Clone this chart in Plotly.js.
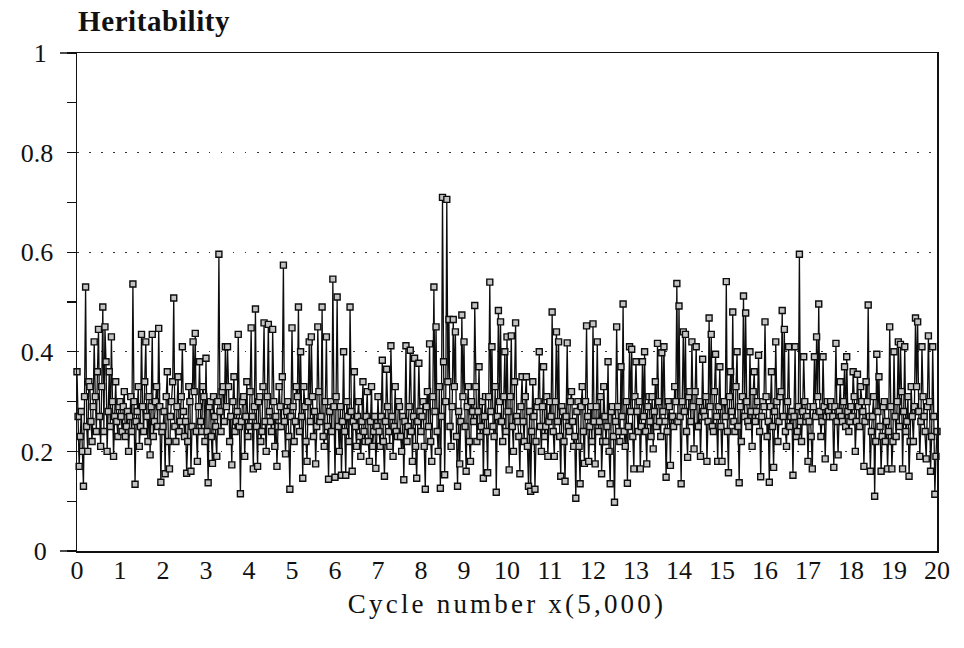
<!DOCTYPE html>
<html>
<head>
<meta charset="utf-8">
<script src="https://cdn.plot.ly/plotly-3.0.1.min.js"></script>
<style>
html,body{margin:0;padding:0;background:#fff;}
#chart{width:964px;height:648px;}
.xtitle{letter-spacing:3.2px;}
.gtitle{letter-spacing:0.6px;}
</style>
</head>
<body>
<div id="chart"></div>
<script>
// Sampling step of the cycle axis (units of 5,000 cycles)
const sampleStep = 0.025;

// Heritability, samples on the 0.05 grid, one row per axis unit
const h00 = [0.36,0.17,0.28,0.13,0.53,0.20,0.33,0.22,0.42,0.24,0.445,0.21,0.49,0.45,0.20,0.36,0.43,0.19,0.34,0.23];
const h01 = [0.30,0.24,0.32,0.25,0.20,0.31,0.536,0.134,0.28,0.21,0.435,0.24,0.42,0.22,0.193,0.435,0.26,0.33,0.447,0.138];
const h02 = [0.25,0.155,0.36,0.165,0.30,0.508,0.22,0.35,0.26,0.41,0.23,0.156,0.33,0.16,0.42,0.437,0.18,0.38,0.24,0.31];
const h03 = [0.387,0.137,0.30,0.176,0.27,0.19,0.596,0.24,0.33,0.41,0.41,0.22,0.173,0.35,0.26,0.435,0.115,0.30,0.19,0.34];
const h04 = [0.25,0.448,0.165,0.486,0.17,0.31,0.24,0.458,0.20,0.455,0.26,0.445,0.21,0.17,0.33,0.25,0.574,0.195,0.30,0.124];
const h05 = [0.448,0.22,0.33,0.49,0.40,0.146,0.29,0.18,0.42,0.43,0.23,0.175,0.45,0.26,0.49,0.21,0.43,0.144,0.30,0.546];
const h06 = [0.148,0.51,0.20,0.152,0.40,0.152,0.27,0.49,0.16,0.36,0.21,0.30,0.19,0.34,0.22,0.32,0.18,0.33,0.24,0.166];
const h07 = [0.31,0.21,0.383,0.15,0.365,0.24,0.412,0.19,0.33,0.23,0.29,0.20,0.143,0.412,0.25,0.403,0.18,0.387,0.146,0.377];
const h08 = [0.24,0.30,0.124,0.32,0.416,0.18,0.53,0.45,0.20,0.126,0.71,0.153,0.706,0.465,0.21,0.465,0.44,0.13,0.175,0.474];
const h09 = [0.42,0.16,0.33,0.18,0.28,0.493,0.22,0.37,0.25,0.146,0.31,0.157,0.54,0.41,0.23,0.118,0.483,0.46,0.22,0.40];
const h10 = [0.43,0.163,0.432,0.20,0.458,0.26,0.155,0.35,0.22,0.35,0.13,0.12,0.34,0.124,0.29,0.40,0.20,0.37,0.25,0.19];
const h11 = [0.30,0.48,0.19,0.44,0.42,0.15,0.28,0.14,0.418,0.24,0.32,0.21,0.106,0.30,0.135,0.33,0.176,0.452,0.18,0.29];
const h12 = [0.456,0.175,0.42,0.26,0.155,0.33,0.22,0.38,0.135,0.29,0.098,0.45,0.24,0.37,0.496,0.21,0.136,0.41,0.405,0.165];
const h13 = [0.38,0.24,0.165,0.38,0.40,0.175,0.31,0.23,0.205,0.34,0.417,0.26,0.398,0.41,0.148,0.30,0.172,0.27,0.33,0.537];
const h14 = [0.492,0.135,0.44,0.435,0.188,0.32,0.42,0.205,0.41,0.25,0.19,0.385,0.27,0.18,0.468,0.435,0.24,0.395,0.18,0.37];
const h15 = [0.18,0.30,0.541,0.157,0.36,0.48,0.24,0.40,0.137,0.22,0.512,0.478,0.26,0.40,0.21,0.36,0.28,0.393,0.149,0.30];
const h16 = [0.46,0.23,0.138,0.36,0.168,0.42,0.22,0.31,0.483,0.445,0.21,0.41,0.27,0.152,0.41,0.24,0.596,0.22,0.39,0.26];
const h17 = [0.18,0.29,0.165,0.39,0.43,0.496,0.23,0.39,0.185,0.30,0.27,0.29,0.168,0.417,0.193,0.34,0.26,0.37,0.39,0.24];
const h18 = [0.29,0.36,0.20,0.355,0.25,0.30,0.17,0.34,0.494,0.16,0.27,0.11,0.395,0.35,0.16,0.29,0.22,0.165,0.45,0.165];
const h19 = [0.40,0.23,0.42,0.415,0.165,0.41,0.26,0.15,0.33,0.22,0.468,0.46,0.19,0.41,0.27,0.185,0.432,0.16,0.41,0.114];

// Heritability, samples half-way between the above (the dense core band), one row per axis unit
const m00 = [0.27,0.23,0.20,0.31,0.25,0.34,0.26,0.29,0.31,0.36,0.27,0.33,0.24,0.38,0.28,0.25,0.30,0.27,0.26,0.29];
const m01 = [0.27,0.29,0.23,0.28,0.27,0.24,0.30,0.26,0.33,0.25,0.29,0.34,0.27,0.31,0.29,0.23,0.30,0.25,0.29,0.24];
const m02 = [0.28,0.31,0.22,0.27,0.34,0.25,0.29,0.24,0.31,0.28,0.26,0.22,0.30,0.25,0.32,0.24,0.29,0.26,0.33,0.22];
const m03 = [0.24,0.29,0.23,0.31,0.25,0.30,0.28,0.32,0.26,0.29,0.33,0.27,0.30,0.24,0.28,0.25,0.26,0.31,0.27,0.23];
const m04 = [0.32,0.27,0.29,0.25,0.30,0.22,0.33,0.26,0.31,0.28,0.24,0.30,0.27,0.25,0.29,0.35,0.26,0.28,0.23,0.27];
const m05 = [0.29,0.26,0.31,0.24,0.27,0.33,0.22,0.30,0.26,0.31,0.28,0.25,0.32,0.27,0.23,0.30,0.25,0.28,0.24,0.29];
const m06 = [0.31,0.25,0.29,0.26,0.24,0.30,0.22,0.28,0.26,0.25,0.27,0.23,0.26,0.24,0.27,0.22,0.26,0.21,0.27,0.25];
const m07 = [0.24,0.27,0.22,0.26,0.29,0.21,0.27,0.25,0.24,0.30,0.23,0.27,0.26,0.22,0.29,0.24,0.27,0.21,0.26,0.28];
const m08 = [0.27,0.21,0.29,0.25,0.22,0.31,0.28,0.24,0.33,0.27,0.38,0.30,0.34,0.25,0.29,0.33,0.23,0.28,0.26,0.31];
const m09 = [0.25,0.29,0.22,0.30,0.26,0.33,0.28,0.23,0.30,0.27,0.24,0.31,0.28,0.25,0.33,0.27,0.30,0.26,0.31,0.24];
const m10 = [0.28,0.31,0.25,0.34,0.27,0.23,0.29,0.26,0.31,0.21,0.28,0.24,0.27,0.22,0.30,0.25,0.29,0.23,0.31,0.26];
const m11 = [0.27,0.24,0.30,0.26,0.23,0.29,0.22,0.27,0.25,0.30,0.26,0.23,0.28,0.21,0.29,0.24,0.30,0.27,0.25,0.22];
const m12 = [0.26,0.29,0.24,0.31,0.22,0.27,0.25,0.20,0.28,0.23,0.26,0.29,0.22,0.27,0.24,0.30,0.25,0.28,0.23,0.31];
const m13 = [0.28,0.30,0.25,0.27,0.24,0.29,0.26,0.31,0.28,0.25,0.30,0.23,0.28,0.26,0.24,0.29,0.27,0.25,0.30,0.26];
const m14 = [0.27,0.30,0.28,0.24,0.31,0.26,0.29,0.32,0.25,0.30,0.27,0.28,0.31,0.26,0.29,0.25,0.32,0.27,0.29,0.25];
const m15 = [0.30,0.27,0.24,0.31,0.28,0.26,0.33,0.25,0.29,0.31,0.27,0.30,0.25,0.28,0.32,0.26,0.30,0.24,0.27,0.29];
const m16 = [0.31,0.26,0.29,0.25,0.28,0.30,0.26,0.32,0.27,0.24,0.30,0.25,0.28,0.27,0.23,0.29,0.26,0.28,0.30,0.27];
const m17 = [0.26,0.23,0.29,0.27,0.31,0.28,0.26,0.29,0.27,0.28,0.30,0.27,0.29,0.26,0.28,0.27,0.30,0.25,0.28,0.26];
const m18 = [0.27,0.31,0.26,0.29,0.33,0.28,0.26,0.30,0.27,0.24,0.31,0.22,0.28,0.25,0.23,0.30,0.26,0.24,0.29,0.22];
const m19 = [0.27,0.30,0.25,0.32,0.28,0.24,0.31,0.22,0.27,0.29,0.33,0.28,0.26,0.31,0.24,0.29,0.30,0.23,0.27,0.19];

// Last sample at cycle 20
const hEnd = [0.24];

// Axis tick labels (single-digit y labels padded so they sit centred like the original)
const xTickVals = [0,1,2,3,4,5,6,7,8,9,10,11,12,13,14,15,16,17,18,19,20];
const xTickText = ['0','1','2','3','4','5','6','7','8','9','10','11','12','13','14','15','16','17','18','19','20'];
const yTickVals = [0,0.2,0.4,0.6,0.8,1];
const yTickText = ['0\u2008','0.2','0.4','0.6','0.8','1\u2008'];

const mainRows = [h00,h01,h02,h03,h04,h05,h06,h07,h08,h09,h10,h11,h12,h13,h14,h15,h16,h17,h18,h19];
const midRows  = [m00,m01,m02,m03,m04,m05,m06,m07,m08,m09,m10,m11,m12,m13,m14,m15,m16,m17,m18,m19];
const heritability = [];
mainRows.forEach((row, r) => {
  row.forEach((v, j) => { heritability.push(v); heritability.push(midRows[r][j]); });
});
hEnd.forEach(v => heritability.push(v));
const cycle = heritability.map((_, i) => +(i * sampleStep).toFixed(4));

const serif = 'Liberation Serif, serif';

const trace = {
  x: cycle,
  y: heritability,
  type: 'scatter',
  mode: 'lines+markers',
  line: {color: '#0d0d0d', width: 1.3},
  marker: {symbol: 'square', size: 6, color: '#c4c4c4', line: {color: '#0d0d0d', width: 1.4}},
  cliponaxis: false,
  hoverinfo: 'x+y'
};

const layout = {
  width: 964,
  height: 648,
  margin: {l: 77, r: 27, t: 53, b: 97},
  paper_bgcolor: '#fff',
  plot_bgcolor: '#fff',
  showlegend: false,
  font: {family: serif, color: '#111'},
  title: {
    text: 'Heritability',
    xref: 'container', yref: 'container',
    x: 78/964, xanchor: 'left',
    y: 1 - 21/648, yanchor: 'middle',
    font: {family: serif, size: 29, weight: 'bold', color: '#111'}
  },
  xaxis: {
    range: [0, 20],
    tickmode: 'array', tickvals: xTickVals, ticktext: xTickText,
    ticks: '', showgrid: false, zeroline: false,
    showline: true, linecolor: '#111', linewidth: 1.5, mirror: true,
    tickfont: {family: serif, size: 26, color: '#111'},
    ticklabelstandoff: -5,
    title: {text: 'Cycle number x(5,000)', font: {family: serif, size: 27, color: '#111'}, standoff: 10}
  },
  yaxis: {
    range: [0, 1],
    tickmode: 'array', tickvals: yTickVals, ticktext: yTickText,
    ticks: 'outside', ticklen: 9, tickwidth: 1.2, tickcolor: '#111',
    minor: {dtick: 0.1, ticks: 'outside', ticklen: 9, tickwidth: 1.2, tickcolor: '#111', showgrid: false},
    showgrid: true, gridcolor: '#333', gridwidth: 1, griddash: '1.5px,10.5px',
    zeroline: false,
    showline: true, linecolor: '#111', linewidth: 1.5, mirror: true,
    tickfont: {family: serif, size: 26, color: '#111'},
    ticklabelstandoff: 8
  },
  shapes: [
    {type: 'line', xref: 'paper', yref: 'paper', x0: -17/860, x1: 0, y0: 1, y1: 1, line: {color: '#111', width: 1.5}},
    {type: 'line', xref: 'paper', yref: 'paper', x0: -17/860, x1: 0, y0: 0, y1: 0, line: {color: '#111', width: 1.5}}
  ]
};

Plotly.newPlot('chart', [trace], layout, {displayModeBar: false, staticPlot: true});
</script>
</body>
</html>
